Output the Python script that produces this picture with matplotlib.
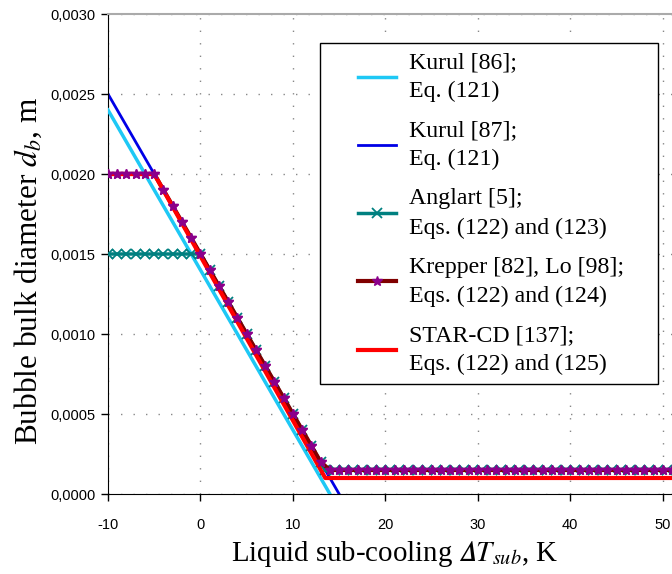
import matplotlib
matplotlib.use('Agg')
import matplotlib.pyplot as plt
from matplotlib.patches import Rectangle
from matplotlib.ticker import FuncFormatter, MultipleLocator

plt.rcParams['axes.unicode_minus'] = False
plt.rcParams['mathtext.fontset'] = 'stix'

# Kurul correlations (straight lines, no markers)
kurul86_x = [-10, 14]
kurul86_y = [0.0024, 0.0]
kurul87_x = [-10, 15]
kurul87_y = [0.0025, 0.0]

# Anglart: flat 1.5 mm, linear drop, flat 0.15 mm
anglart_x = list(range(-10, 14)) + [v + 0.5 for v in range(13, 51)]
anglart_y = ([0.0015] * 11 +
             [0.0014, 0.0013, 0.0012, 0.0011, 0.0010, 0.0009, 0.0008,
              0.0007, 0.0006, 0.0005, 0.0004, 0.0003, 0.0002] +
             [0.00015] * 38)

# Krepper / Lo: flat 2 mm, linear drop, flat 0.15 mm
krepper_x = list(range(-10, 52))
krepper_y = ([0.0020] * 6 +
             [0.0019, 0.0018, 0.0017, 0.0016, 0.0015, 0.0014, 0.0013,
              0.0012, 0.0011, 0.0010, 0.0009, 0.0008, 0.0007, 0.0006,
              0.0005, 0.0004, 0.0003, 0.0002] +
             [0.00015] * 38)

# STAR-CD
starcd_x = [-10, -5, 13.5, 51]
starcd_y = [0.0020, 0.0020, 0.0001, 0.0001]

fig = plt.figure(figsize=(6.72, 5.74), dpi=100)
ax = fig.add_axes([108 / 672, 80 / 574, 564 / 672, 480 / 574])

ax.plot(kurul86_x, kurul86_y, color='#1ec8f5', lw=2.5, label='Kurul [86];\nEq. (121)', zorder=3)
ax.plot(kurul87_x, kurul87_y, color='#0000e6', lw=2.0, label='Kurul [87];\nEq. (121)', zorder=2)
ax.plot(anglart_x, anglart_y, color='#008080', lw=2.5, marker='x', ms=7, mew=1.3,
        label='Anglart [5];\nEqs. (122) and (123)', zorder=3)
ax.plot(krepper_x, krepper_y, color='#800000', lw=3, marker='*', ms=7,
        mfc='#8b008b', mec='#8b008b', label='Krepper [82], Lo [98];\nEqs. (122) and (124)', zorder=4)
ax.plot(starcd_x, starcd_y, color='#ff0000', lw=3, label='STAR-CD [137];\nEqs. (122) and (125)', zorder=5)
# markers again on top of the red line
ax.plot(krepper_x, krepper_y, ls='none', marker='*', ms=7, mfc='#8b008b', mec='#8b008b', zorder=6)

ax.set_xlim(-10, 51)
ax.set_ylim(0, 0.003)
ax.xaxis.set_major_locator(MultipleLocator(10))
ax.yaxis.set_major_locator(MultipleLocator(0.0005))
ax.yaxis.set_major_formatter(FuncFormatter(lambda v, p: f'{v:.4f}'.replace('.', ',')))

ax.grid(True, color='#888888', linestyle=(0, (1, 8)), linewidth=1)
ax.spines['right'].set_visible(False)
ax.spines['top'].set_color('#aaaaaa')
ax.spines['top'].set_linewidth(1.5)
ax.tick_params(direction='out', length=5, width=1, labelsize=10.5, top=False, right=False, pad=4)
ax.tick_params(axis='x', pad=12)
for lbl in ax.get_xticklabels() + ax.get_yticklabels():
    lbl.set_fontfamily('Liberation Sans')

ax.set_xlabel('Liquid sub-cooling $\U0001D6E5T_{sub}$, K', fontfamily='Liberation Serif',
              fontsize=20.8, labelpad=5)
ax.xaxis.label.set_x(0.508)
ax.set_ylabel(r'Bubble bulk diameter $d_b$, m', fontfamily='Liberation Serif', fontsize=22.5)
ax.yaxis.set_label_coords(-0.113, 0.465)

leg = ax.legend(loc='upper left', bbox_to_anchor=(358 / 672, (574 - 52) / 574),
                bbox_transform=fig.transFigure,
                prop={'family': 'Liberation Serif', 'size': 17.2}, frameon=False,
                handlelength=1.6, handletextpad=0.55, labelspacing=0.75,
                borderpad=0, borderaxespad=0)
for t in leg.get_texts():
    t.set_linespacing(1.5)
leg.set_zorder(10)

# frame around the legend with wide side margins
fig.canvas.draw()
bb = leg.get_window_extent()
frame = Rectangle((320, bb.y0 - 9), 338, bb.y1 - bb.y0 + 18, transform=None,
                  facecolor='white', edgecolor='black', linewidth=1, zorder=9)
ax.add_artist(frame)

fig.savefig('out.png', dpi=100)
